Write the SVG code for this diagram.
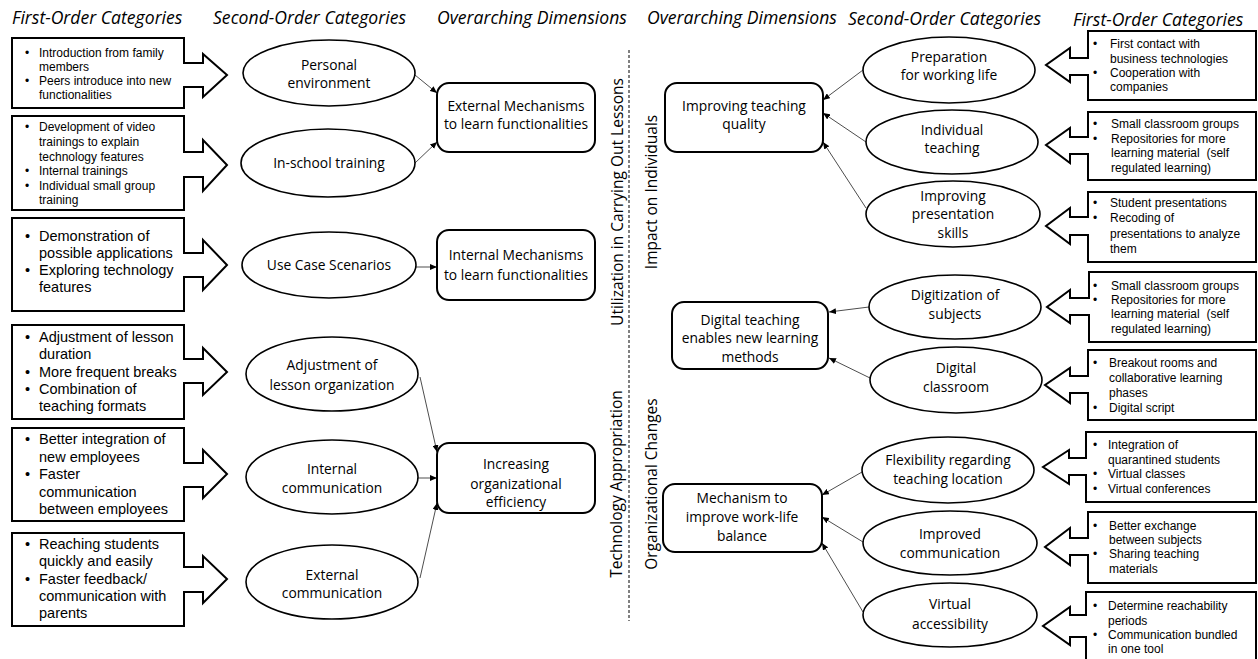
<svg xmlns="http://www.w3.org/2000/svg" width="1258" height="659" viewBox="0 0 1258 659">
<defs>
<style>
.hdr{font-family:"Open Sans","Liberation Sans",sans-serif;font-style:italic;font-size:17.6px;fill:#000}
.nt{font-family:"Open Sans","Liberation Sans",sans-serif;font-size:13.8px;fill:#000;text-anchor:middle}
.vt{font-family:"Open Sans","Liberation Sans",sans-serif;font-size:15.5px;fill:#000;text-anchor:middle}
.bs{font-family:"Liberation Sans",Arial,sans-serif;font-size:12px;fill:#000}
.bl{font-family:"Liberation Sans",Arial,sans-serif;font-size:14.5px;fill:#000}
.co{fill:#fff;stroke:#000;stroke-width:2}
.el{fill:#fff;stroke:#000;stroke-width:1.6}
.rr{fill:#fff;stroke:#000;stroke-width:2}
.cn{stroke:#000;stroke-width:0.7;fill:none;marker-end:url(#ah)}
</style>
<marker id="ah" markerWidth="7" markerHeight="6" refX="7" refY="3" orient="auto" markerUnits="userSpaceOnUse"><path d="M0,0 L7,3 L0,6 Z" fill="#000"/></marker>
</defs>
<rect width="1258" height="659" fill="#fff"/>

<g id="headers">
<text class="hdr" x="12" y="24">First-Order Categories</text>
<text class="hdr" x="213" y="24">Second-Order Categories</text>
<text class="hdr" x="437" y="24">Overarching Dimensions</text>
<text class="hdr" x="647" y="24">Overarching Dimensions</text>
<text class="hdr" x="848" y="25">Second-Order Categories</text>
<text class="hdr" x="1073" y="26">First-Order Categories</text>
</g>

<g id="divider">
<line x1="629" y1="50" x2="629" y2="621" stroke="#000" stroke-width="1" stroke-dasharray="3,2"/>
<text class="vt" transform="translate(623,202) rotate(-90)">Utilization in Carrying Out Lessons</text>
<text class="vt" transform="translate(622,484) rotate(-90)">Technology Appropriation</text>
<text class="vt" transform="translate(657,192) rotate(-90)">Impact on Individuals</text>
<text class="vt" transform="translate(657,484) rotate(-90)">Organizational Changes</text>
</g>

<!-- Left first-order callouts -->
<g id="lf1">
<path class="co" d="M12,38 H184 V63 H203 V54 L227,75 L203,97 V87 H184 V108 H12 Z"/>
<text class="bs" x="25" y="57">•</text><text class="bs" x="39" y="57">Introduction from family</text>
<text class="bs" x="39" y="71">members</text>
<text class="bs" x="25" y="85">•</text><text class="bs" x="39" y="85">Peers introduce into new</text>
<text class="bs" x="39" y="99">functionalities</text>
</g>
<g id="lf2">
<path class="co" d="M12,116 H184 V152 H203 V140 L227,165 L203,191 V177 H184 V210 H12 Z"/>
<text class="bs" x="25" y="131">•</text><text class="bs" x="39" y="131">Development of video</text>
<text class="bs" x="39" y="146">trainings to explain</text>
<text class="bs" x="39" y="161">technology features</text>
<text class="bs" x="25" y="175">•</text><text class="bs" x="39" y="175">Internal trainings</text>
<text class="bs" x="25" y="190">•</text><text class="bs" x="39" y="190">Individual small group</text>
<text class="bs" x="39" y="204">training</text>
</g>
<g id="lf3">
<path class="co" d="M12,218 H184 V253 H203 V240 L227,265 L203,290 V277 H184 V311 H12 Z"/>
<text class="bl" x="25" y="241">•</text><text class="bl" x="39" y="241">Demonstration of</text>
<text class="bl" x="39" y="258">possible applications</text>
<text class="bl" x="25" y="275">•</text><text class="bl" x="39" y="275">Exploring technology</text>
<text class="bl" x="39" y="292">features</text>
</g>
<g id="lf4">
<path class="co" d="M12,325 H184 V359 H203 V348 L227,372 L203,395 V383 H184 V419 H12 Z"/>
<text class="bl" x="25" y="342">•</text><text class="bl" x="39" y="342">Adjustment of lesson</text>
<text class="bl" x="39" y="359">duration</text>
<text class="bl" x="25" y="377">•</text><text class="bl" x="39" y="377">More frequent breaks</text>
<text class="bl" x="25" y="394">•</text><text class="bl" x="39" y="394">Combination of</text>
<text class="bl" x="39" y="411">teaching formats</text>
</g>
<g id="lf5">
<path class="co" d="M12,428 H184 V463 H203 V450 L227,474 L203,498 V487 H184 V521 H12 Z"/>
<text class="bl" x="25" y="444">•</text><text class="bl" x="39" y="444">Better integration of</text>
<text class="bl" x="39" y="462">new employees</text>
<text class="bl" x="25" y="479">•</text><text class="bl" x="39" y="479">Faster</text>
<text class="bl" x="39" y="497">communication</text>
<text class="bl" x="39" y="514">between employees</text>
</g>
<g id="lf6">
<path class="co" d="M12,533 H184 V567 H203 V556 L227,579 L203,603 V592 H184 V626 H12 Z"/>
<text class="bl" x="25" y="549">•</text><text class="bl" x="39" y="549">Reaching students</text>
<text class="bl" x="39" y="566">quickly and easily</text>
<text class="bl" x="25" y="584">•</text><text class="bl" x="39" y="584">Faster feedback/</text>
<text class="bl" x="39" y="601">communication with</text>
<text class="bl" x="39" y="618">parents</text>
</g>

<!-- Left second-order ellipses -->
<g id="ls1"><ellipse class="el" cx="329" cy="73" rx="86" ry="33"/>
<text class="nt" x="329" y="70">Personal</text><text class="nt" x="329" y="88">environment</text></g>
<g id="ls2"><ellipse class="el" cx="328" cy="163" rx="87" ry="34"/>
<text class="nt" x="329" y="168">In-school training</text></g>
<g id="ls3"><ellipse class="el" cx="329" cy="265" rx="87" ry="33"/>
<text class="nt" x="329" y="270">Use Case Scenarios</text></g>
<g id="ls4"><ellipse class="el" cx="332" cy="374" rx="86" ry="37"/>
<text class="nt" x="332" y="370">Adjustment of</text><text class="nt" x="332" y="390">lesson organization</text></g>
<g id="ls5"><ellipse class="el" cx="332" cy="477" rx="86" ry="37"/>
<text class="nt" x="332" y="474">Internal</text><text class="nt" x="332" y="493">communication</text></g>
<g id="ls6"><ellipse class="el" cx="332" cy="582" rx="86" ry="37"/>
<text class="nt" x="332" y="580">External</text><text class="nt" x="332" y="598">communication</text></g>

<!-- Left overarching -->
<g id="lo1"><rect class="rr" x="437" y="83" width="158" height="69" rx="12"/>
<text class="nt" x="516" y="111">External Mechanisms</text><text class="nt" x="516" y="129">to learn functionalities</text></g>
<g id="lo2"><rect class="rr" x="437" y="230" width="158" height="70" rx="12"/>
<text class="nt" x="516" y="260">Internal Mechanisms</text><text class="nt" x="516" y="280">to learn functionalities</text></g>
<g id="lo3"><rect class="rr" x="437" y="443" width="158" height="70" rx="12"/>
<text class="nt" x="516" y="469">Increasing</text><text class="nt" x="516" y="489">organizational</text><text class="nt" x="516" y="507">efficiency</text></g>

<!-- Right overarching -->
<g id="ro1"><rect class="rr" x="665" y="83" width="158" height="69" rx="12"/>
<text class="nt" x="744" y="111">Improving teaching</text><text class="nt" x="744" y="129">quality</text></g>
<g id="ro2"><rect class="rr" x="672" y="302" width="156" height="67" rx="12"/>
<text class="nt" x="750" y="325">Digital teaching</text><text class="nt" x="750" y="343">enables new learning</text><text class="nt" x="750" y="362">methods</text></g>
<g id="ro3"><rect class="rr" x="663" y="484" width="159" height="68" rx="12"/>
<text class="nt" x="742" y="503">Mechanism to</text><text class="nt" x="742" y="522">improve work-life</text><text class="nt" x="742" y="541">balance</text></g>

<!-- Right second-order ellipses -->
<g id="rs1"><ellipse class="el" cx="949" cy="70" rx="86" ry="33"/>
<text class="nt" x="949" y="62">Preparation</text><text class="nt" x="949" y="80">for working life</text></g>
<g id="rs2"><ellipse class="el" cx="952" cy="142" rx="86" ry="32"/>
<text class="nt" x="952" y="135">Individual</text><text class="nt" x="952" y="153">teaching</text></g>
<g id="rs3"><ellipse class="el" cx="953" cy="214" rx="87" ry="33"/>
<text class="nt" x="953" y="201">Improving</text><text class="nt" x="953" y="219">presentation</text><text class="nt" x="953" y="238">skills</text></g>
<g id="rs4"><ellipse class="el" cx="955" cy="307" rx="86" ry="32"/>
<text class="nt" x="955" y="300">Digitization of</text><text class="nt" x="955" y="319">subjects</text></g>
<g id="rs5"><ellipse class="el" cx="956" cy="380" rx="86" ry="33"/>
<text class="nt" x="956" y="373">Digital</text><text class="nt" x="956" y="392">classroom</text></g>
<g id="rs6"><ellipse class="el" cx="948" cy="470" rx="86" ry="33"/>
<text class="nt" x="948" y="465">Flexibility regarding</text><text class="nt" x="948" y="484">teaching location</text></g>
<g id="rs7"><ellipse class="el" cx="950" cy="543" rx="87" ry="32"/>
<text class="nt" x="950" y="539">Improved</text><text class="nt" x="950" y="558">communication</text></g>
<g id="rs8"><ellipse class="el" cx="950" cy="615" rx="87" ry="32"/>
<text class="nt" x="950" y="609">Virtual</text><text class="nt" x="950" y="629">accessibility</text></g>

<!-- Right first-order callouts -->
<g id="rf1">
<path class="co" d="M1256,31 H1088 V58 H1070 V48 L1046,65 L1070,82 V75 H1088 V100 H1256 Z"/>
<text class="bs" x="1093" y="48">•</text><text class="bs" x="1110" y="48">First contact with</text>
<text class="bs" x="1110" y="63">business technologies</text>
<text class="bs" x="1093" y="77">•</text><text class="bs" x="1110" y="77">Cooperation with</text>
<text class="bs" x="1110" y="91">companies</text>
</g>
<g id="rf2">
<path class="co" d="M1256,112 H1088 V137 H1070 V128 L1046,145 L1070,163 V154 H1088 V180 H1256 Z"/>
<text class="bs" x="1093" y="128">•</text><text class="bs" x="1111" y="128">Small classroom groups</text>
<text class="bs" x="1093" y="143">•</text><text class="bs" x="1111" y="143">Repositories for more</text>
<text class="bs" x="1111" y="157" xml:space="preserve">learning material  (self</text>
<text class="bs" x="1111" y="172">regulated learning)</text>
</g>
<g id="rf3">
<path class="co" d="M1256,192 H1088 V217 H1070 V208 L1046,226 L1070,244 V235 H1088 V262 H1256 Z"/>
<text class="bs" x="1093" y="207">•</text><text class="bs" x="1110" y="207">Student presentations</text>
<text class="bs" x="1093" y="222">•</text><text class="bs" x="1110" y="222">Recoding of</text>
<text class="bs" x="1110" y="238">presentations to analyze</text>
<text class="bs" x="1110" y="253">them</text>
</g>
<g id="rf4">
<path class="co" d="M1256,272 H1089 V298 H1070 V290 L1047,307 L1070,323 V315 H1089 V342 H1256 Z"/>
<text class="bs" x="1093" y="290">•</text><text class="bs" x="1111" y="290">Small classroom groups</text>
<text class="bs" x="1093" y="304">•</text><text class="bs" x="1111" y="304">Repositories for more</text>
<text class="bs" x="1111" y="318" xml:space="preserve">learning material  (self</text>
<text class="bs" x="1111" y="333">regulated learning)</text>
</g>
<g id="rf5">
<path class="co" d="M1256,350 H1088 V376 H1070 V368 L1045,385 L1070,403 V393 H1088 V420 H1256 Z"/>
<text class="bs" x="1093" y="367">•</text><text class="bs" x="1109" y="367">Breakout rooms and</text>
<text class="bs" x="1109" y="382">collaborative learning</text>
<text class="bs" x="1109" y="397">phases</text>
<text class="bs" x="1093" y="412">•</text><text class="bs" x="1109" y="412">Digital script</text>
</g>
<g id="rf6">
<path class="co" d="M1256,432 H1086 V458 H1069 V450 L1043,467 L1069,484 V475 H1086 V502 H1256 Z"/>
<text class="bs" x="1093" y="449">•</text><text class="bs" x="1108" y="449">Integration of</text>
<text class="bs" x="1108" y="464">quarantined students</text>
<text class="bs" x="1093" y="478">•</text><text class="bs" x="1108" y="478">Virtual classes</text>
<text class="bs" x="1093" y="493">•</text><text class="bs" x="1108" y="493">Virtual conferences</text>
</g>
<g id="rf7">
<path class="co" d="M1256,512 H1088 V538 H1070 V528 L1045,547 L1070,565 V555 H1088 V583 H1256 Z"/>
<text class="bs" x="1093" y="530">•</text><text class="bs" x="1109" y="530">Better exchange</text>
<text class="bs" x="1109" y="544">between subjects</text>
<text class="bs" x="1093" y="558">•</text><text class="bs" x="1109" y="558">Sharing teaching</text>
<text class="bs" x="1109" y="573">materials</text>
</g>
<g id="rf8">
<path class="co" d="M1256,592 H1086 V615 H1070 V607 L1043,626 L1070,645 V637 H1086 V668 H1256 Z"/>
<text class="bs" x="1093" y="610">•</text><text class="bs" x="1108" y="610">Determine reachability</text>
<text class="bs" x="1108" y="625">periods</text>
<text class="bs" x="1093" y="639">•</text><text class="bs" x="1108" y="639">Communication bundled</text>
<text class="bs" x="1108" y="653">in one tool</text>
</g>

<g id="connectors">
<line class="cn" x1="415" y1="75" x2="437" y2="93"/>
<line class="cn" x1="415" y1="163" x2="437" y2="142"/>
<line class="cn" x1="416" y1="267" x2="437" y2="267"/>
<line class="cn" x1="420" y1="377" x2="437" y2="452"/>
<line class="cn" x1="418" y1="478" x2="437" y2="478"/>
<line class="cn" x1="420" y1="578" x2="437" y2="503"/>
<line class="cn" x1="863" y1="70" x2="823" y2="100"/>
<line class="cn" x1="866" y1="142" x2="823" y2="113"/>
<line class="cn" x1="866" y1="208" x2="823" y2="142"/>
<line class="cn" x1="869" y1="307" x2="829" y2="312"/>
<line class="cn" x1="870" y1="378" x2="829" y2="358"/>
<line class="cn" x1="862" y1="472" x2="822" y2="495"/>
<line class="cn" x1="863" y1="542" x2="822" y2="517"/>
<line class="cn" x1="863" y1="612" x2="822" y2="543"/>
</g>
</svg>
